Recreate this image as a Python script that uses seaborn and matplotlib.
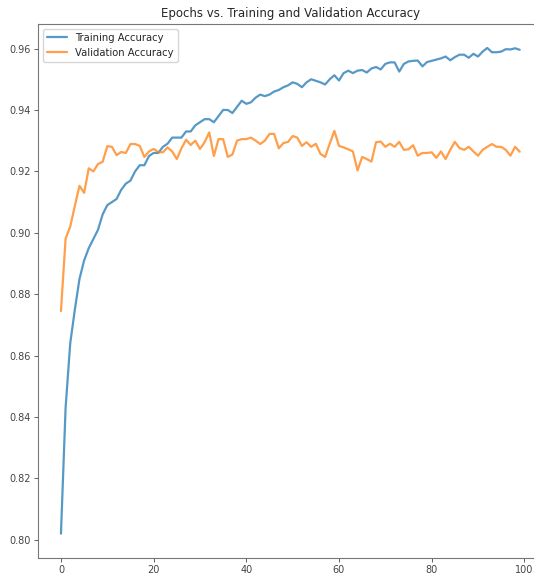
import matplotlib
matplotlib.use("Agg")
import matplotlib.pyplot as plt
import seaborn as sns
import numpy as np
import pandas as pd

# values (epochs 0..99)
train_acc = [
    0.802, 0.843, 0.864, 0.875, 0.885, 0.891, 0.895, 0.898, 0.901, 0.906,
    0.909, 0.910, 0.911, 0.914, 0.916, 0.917, 0.920, 0.922, 0.922, 0.925,
    0.926, 0.926, 0.928, 0.929, 0.931, 0.931, 0.931, 0.933, 0.933, 0.935,
    0.936, 0.937, 0.937, 0.936, 0.938, 0.940, 0.940, 0.939, 0.941, 0.943,
    0.942, 0.9425, 0.944, 0.9450, 0.9445, 0.9450, 0.9460, 0.9465, 0.9474, 0.9480,
    0.9490, 0.9485, 0.9474, 0.9490, 0.9500, 0.9495, 0.9490, 0.9483, 0.9500, 0.9513,
    0.9496, 0.9520, 0.9528, 0.9520, 0.9528, 0.9530, 0.9522, 0.9535, 0.9540, 0.9532,
    0.9550, 0.9555, 0.9555, 0.9525, 0.9550, 0.9558, 0.9560, 0.9561, 0.9542, 0.9556,
    0.9560, 0.9564, 0.9568, 0.9574, 0.9562, 0.9572, 0.9580, 0.9580, 0.9570, 0.9583,
    0.9574, 0.9590, 0.9602, 0.9588, 0.9588, 0.9590, 0.9598, 0.9597, 0.9601, 0.9596,
]
val_acc = [
    0.8745, 0.8981, 0.9020, 0.9088, 0.9153, 0.9130, 0.9210, 0.9200, 0.9224, 0.9231,
    0.9282, 0.9280, 0.9253, 0.9263, 0.9260, 0.9289, 0.9289, 0.9283, 0.9247, 0.9265,
    0.9273, 0.9263, 0.9262, 0.9278, 0.9265, 0.9240, 0.9275, 0.9303, 0.9286, 0.9300,
    0.9273, 0.9295, 0.9327, 0.9250, 0.9305, 0.9305, 0.9247, 0.9255, 0.9300, 0.9305,
    0.9305, 0.9310, 0.9300, 0.9289, 0.9300, 0.9322, 0.9322, 0.9275, 0.9292, 0.9296,
    0.9315, 0.9310, 0.9283, 0.9295, 0.9280, 0.9290, 0.9257, 0.9247, 0.9290, 0.9332,
    0.9283, 0.9278, 0.9272, 0.9265, 0.9203, 0.9247, 0.9240, 0.9232, 0.9295, 0.9297,
    0.9280, 0.9290, 0.9280, 0.9296, 0.9270, 0.9272, 0.9285, 0.9251, 0.9260, 0.9260,
    0.9262, 0.9244, 0.9265, 0.9240, 0.9270, 0.9296, 0.9276, 0.9270, 0.9280, 0.9265,
    0.9251, 0.9270, 0.9280, 0.9289, 0.9280, 0.9280, 0.9270, 0.9251, 0.9280, 0.9264,
]
series_names = ["Training Accuracy", "Validation Accuracy"]
series_colors = ["#1f77b4", "#ff7f0e"]
epochs = np.arange(len(train_acc))

df = pd.DataFrame({
    "epoch": np.concatenate([epochs, epochs]),
    "accuracy": train_acc + val_acc,
    "series": [series_names[0]] * len(train_acc) + [series_names[1]] * len(val_acc),
})

sns.set_style("ticks")
plt.rcParams["font.family"] = ["DejaVu Sans"]

fig = plt.figure(figsize=(5.34, 5.77), dpi=100)
ax = fig.add_axes([0.0712, 0.033, 0.945, 0.926])

sns.lineplot(data=df, x="epoch", y="accuracy", hue="series",
             palette=dict(zip(series_names, series_colors)),
             linewidth=1.6, alpha=0.75, ax=ax)

ax.set_xlabel("")
ax.set_ylabel("")
ax.set_title("Epochs vs. Training and Validation Accuracy", fontsize=8.5, pad=5)
ax.set_xticks([0, 20, 40, 60, 80, 100])
ax.set_yticks([0.80, 0.82, 0.84, 0.86, 0.88, 0.90, 0.92, 0.94, 0.96])
ax.yaxis.set_major_formatter(matplotlib.ticker.FormatStrFormatter("%.2f"))
ax.tick_params(labelsize=7, length=3, width=0.6, colors="#444444", pad=2)
for s in ax.spines.values():
    s.set_linewidth(0.8)
    s.set_color("#777777")

handles, labels = ax.get_legend_handles_labels()
ax.legend(handles, labels, loc="upper left", fontsize=7.2, frameon=True,
          handlelength=2.0, borderaxespad=0.5)

fig.savefig("out.png", dpi=100)
plt.close(fig)
